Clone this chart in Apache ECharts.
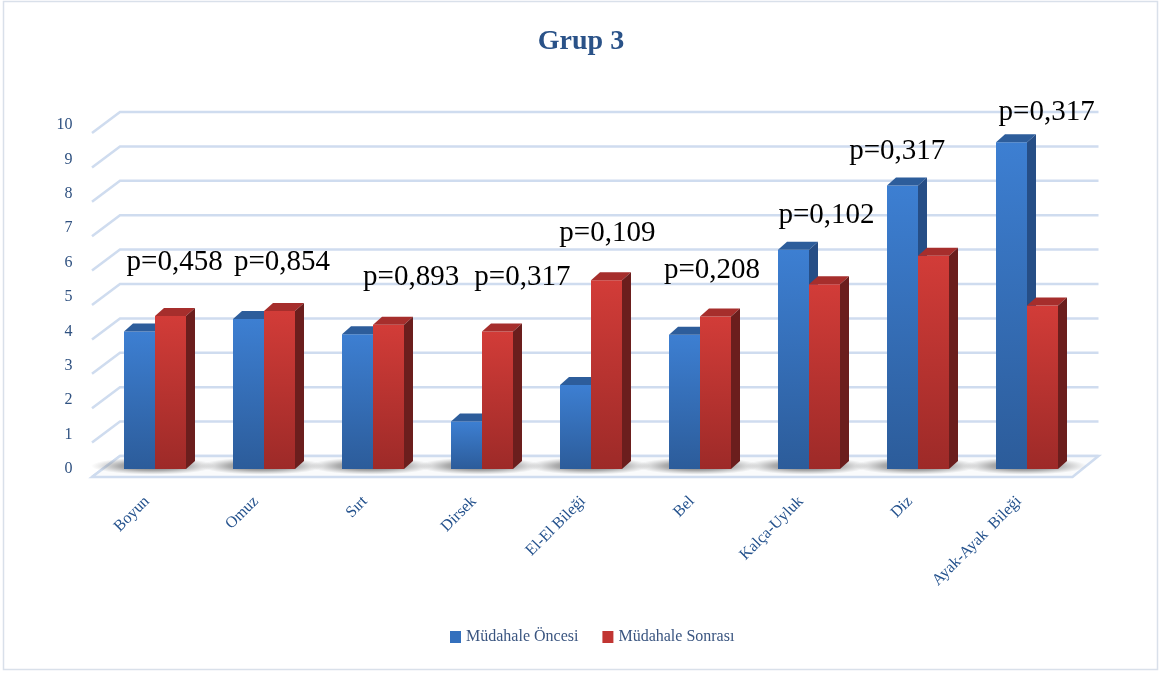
<!DOCTYPE html>
<html>
<head>
<meta charset="utf-8">
<script src="https://cdn.jsdelivr.net/npm/echarts@6/dist/echarts.min.js"></script>
<style>
html,body{margin:0;padding:0;background:#fff;}
#chart{width:1162px;height:673px;}
</style>
</head>
<body>
<div id="chart"></div>
<script>
//分类
var categories = ["Boyun", "Omuz", "Sırt", "Dirsek", "El-El Bileği", "Bel", "Kalça-Uyluk", "Diz", "Ayak-Ayak  Bileği"];
//系列数据
var seriesNames = ["Müdahale Öncesi", "Müdahale Sonrası"];
var before = [4.0, 4.36, 3.92, 1.38, 2.44, 3.9, 6.37, 8.24, 9.5];
var after = [4.45, 4.59, 4.19, 4.0, 5.49, 4.43, 5.37, 6.2, 4.75];
//y轴刻度
var yTicks = [0, 1, 2, 3, 4, 5, 6, 7, 8, 9, 10];
//p值标注（所在值高度，相对分类偏移）
var pLabels = ["p=0,458", "p=0,854", "p=0,893", "p=0,317", "p=0,109", "p=0,208", "p=0,102", "p=0,317", "p=0,317"];
var pLabelY = [6.0, 6.0, 5.58, 5.58, 6.86, 5.78, 7.38, 9.22, 10.38];
var pLabelShift = [0.18, 0.165, 0.35, 0.37, 0.15, 0.11, 0.16, -0.19, 0.18];

var serif = "'Liberation Serif', 'Times New Roman', serif";
var barW = 31;
var depthX = 9;
var depthY = 8;

var faces = [
    {front: ["#3d7fd2", "#2c5c9a"], top: "#2d5d9b", side: "#264e86"},
    {front: ["#d23c38", "#9d2a28"], top: "#a62e2c", side: "#6b1e1d"}
];

function toPairs(arr) {
    var out = [];
    for (var i = 0; i < arr.length; i++) {
        out.push([i, arr[i]]);
    }
    return out;
}

//3D柱子
function makeBarRender(s) {
    return function (params, api) {
        var i = api.value(0);
        var v = api.value(1);
        var base = api.coord([i, 0]);
        var top = api.coord([i, v]);
        var x0 = s === 0 ? base[0] - barW : base[0];
        var yb = base[1];
        var yt = top[1];
        var f = faces[s];
        return {
            type: 'group',
            children: [{
                type: 'rect',
                shape: {x: x0, y: yt, width: barW, height: yb - yt},
                style: {
                    fill: new echarts.graphic.LinearGradient(0, 0, 0, 1, [
                        {offset: 0, color: f.front[0]},
                        {offset: 1, color: f.front[1]}
                    ])
                }
            }, {
                type: 'polygon',
                shape: {points: [[x0, yt], [x0 + depthX, yt - depthY], [x0 + barW + depthX, yt - depthY], [x0 + barW, yt]]},
                style: {fill: f.top}
            }, {
                type: 'polygon',
                shape: {points: [[x0 + barW, yt], [x0 + barW + depthX, yt - depthY], [x0 + barW + depthX, yb - depthY], [x0 + barW, yb]]},
                style: {fill: f.side}
            }]
        };
    };
}

//背景网格线（后墙+左侧斜线）
function renderGrid(params, api) {
    var cs = params.coordSys;
    var y = api.coord([0, api.value(1)])[1];
    var L = cs.x;
    var R = cs.x + cs.width;
    return {
        type: 'polyline',
        shape: {points: [[L - 8.5, y + 8], [L + 19.5, y - 13], [R + 17, y - 13]]},
        style: {stroke: '#cfdcef', lineWidth: 2.5, fill: null}
    };
}

//地板
function renderFloor(params, api) {
    var cs = params.coordSys;
    var y = api.coord([0, 0])[1];
    var L = cs.x;
    var R = cs.x + cs.width;
    return {
        type: 'polygon',
        shape: {points: [[L - 8.5, y + 8], [L + 19.5, y - 13], [R + 17, y - 13], [R - 9, y + 8]]},
        style: {fill: '#fafbfc', stroke: '#cfdcef', lineWidth: 2.5}
    };
}

//柱底阴影
function renderShadow(params, api) {
    var p = api.coord([api.value(0), 0]);
    return {
        type: 'circle',
        shape: {cx: 0, cy: 0, r: 62},
        x: p[0] - 2,
        y: p[1] - 3,
        scaleY: 0.14,
        style: {
            fill: new echarts.graphic.RadialGradient(0.5, 0.5, 0.5, [
                {offset: 0, color: 'rgba(50,50,50,0.8)'},
                {offset: 0.55, color: 'rgba(80,80,80,0.45)'},
                {offset: 1, color: 'rgba(120,120,120,0)'}
            ])
        }
    };
}

//p值文字
function renderP(params, api) {
    var c = api.coord([api.value(0), api.value(1)]);
    var bw = api.size([1, 0])[0];
    return {
        type: 'text',
        x: c[0] + api.value(2) * bw,
        y: c[1],
        style: {
            text: pLabels[params.dataIndex],
            fill: '#000',
            font: '29px ' + serif,
            textAlign: 'center',
            textVerticalAlign: 'middle'
        }
    };
}

var pData = [];
for (var k = 0; k < pLabels.length; k++) {
    pData.push([k, pLabelY[k], pLabelShift[k]]);
}

var myChart = echarts.init(document.getElementById('chart'));

var option = {
    backgroundColor: '#fff',
    animation: false,
    title: {
        text: 'Grup 3',
        left: 'center',
        top: 23,
        textStyle: {fontFamily: serif, fontSize: 28, fontWeight: 'bold', color: '#2a5288'}
    },
    graphic: [{
        type: 'rect',
        shape: {x: 3.5, y: 1.5, width: 1154, height: 668},
        style: {fill: null, stroke: '#d9e0ea', lineWidth: 1.5},
        silent: true
    }],
    legend: {
        data: seriesNames,
        left: 445,
        top: 624,
        icon: 'rect',
        itemWidth: 11,
        itemHeight: 12,
        itemGap: 24,
        textStyle: {fontFamily: serif, fontSize: 16, color: '#3a5580'}
    },
    //第二个grid只用来放倾斜的x轴文字（略向左偏）
    grid: [{
        left: 100.5,
        right: 80.5,
        top: 125,
        bottom: 204
    }, {
        left: 92.5,
        right: 88.5,
        top: 125,
        bottom: 204
    }],
    xAxis: [{
        type: 'category',
        data: categories,
        axisLine: {show: false},
        axisTick: {show: false},
        axisLabel: {show: false}
    }, {
        type: 'category',
        gridIndex: 1,
        data: categories,
        axisLine: {show: false},
        axisTick: {show: false},
        axisLabel: {
            rotate: 45,
            margin: 30,
            interval: 0,
            fontFamily: serif,
            fontSize: 16,
            color: '#22508c'
        }
    }],
    yAxis: [{
        type: 'value',
        min: 0,
        max: 10,
        interval: 1,
        axisLine: {show: false},
        axisTick: {show: false},
        splitLine: {show: false},
        axisLabel: {
            margin: 28,
            fontFamily: serif,
            fontSize: 16,
            color: '#2f5180'
        }
    }, {
        type: 'value',
        gridIndex: 1,
        min: 0,
        max: 10,
        show: false
    }],
    series: [{
        type: 'custom',
        name: 'grid',
        silent: true,
        z: 1,
        renderItem: renderGrid,
        data: yTicks.map(function (t) { return [0, t]; })
    }, {
        type: 'custom',
        name: 'floor',
        silent: true,
        z: 2,
        renderItem: renderFloor,
        data: [[0, 0]]
    }, {
        type: 'custom',
        name: 'shadow',
        silent: true,
        z: 3,
        renderItem: renderShadow,
        data: toPairs(before)
    }, {
        type: 'custom',
        name: seriesNames[0],
        z: 4,
        itemStyle: {color: '#3470bd'},
        renderItem: makeBarRender(0),
        encode: {x: 0, y: 1},
        data: toPairs(before)
    }, {
        type: 'custom',
        name: seriesNames[1],
        z: 5,
        itemStyle: {color: '#c13532'},
        renderItem: makeBarRender(1),
        encode: {x: 0, y: 1},
        data: toPairs(after)
    }, {
        type: 'custom',
        name: 'p',
        silent: true,
        z: 6,
        renderItem: renderP,
        data: pData
    }]
};

myChart.setOption(option);
</script>
</body>
</html>
